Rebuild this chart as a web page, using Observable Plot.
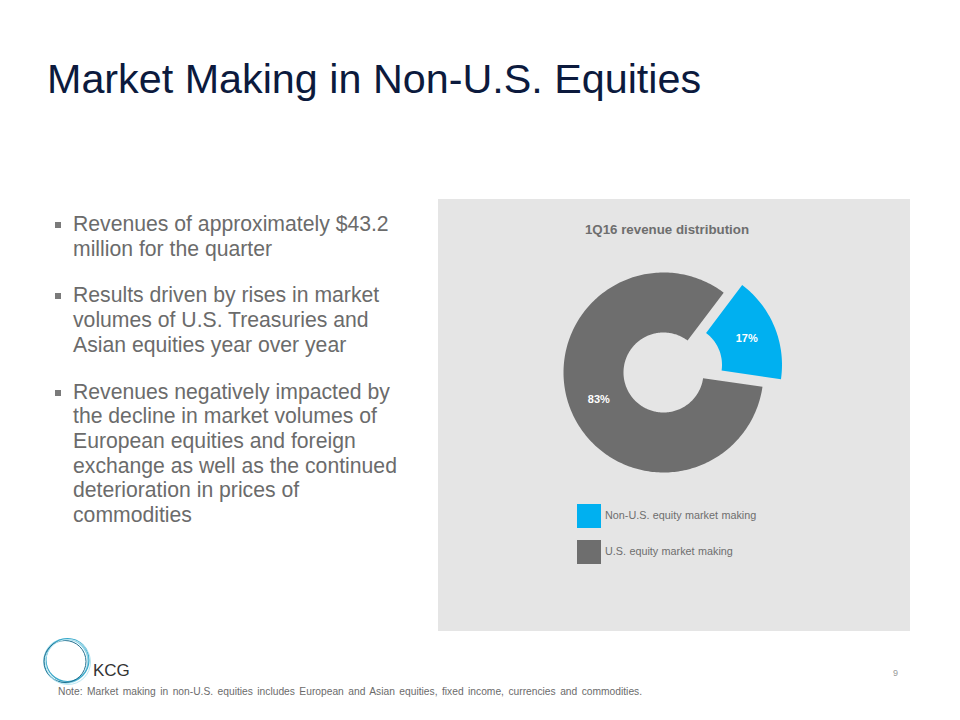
<!DOCTYPE html>
<html>
<head>
<meta charset="utf-8">
<script src="https://cdn.jsdelivr.net/npm/d3@7"></script>
<script src="https://cdn.jsdelivr.net/npm/@observablehq/plot@0.6"></script>
<style>
  html, body { margin: 0; padding: 0; background: #fff; }
  body { width: 960px; height: 720px; position: relative; overflow: hidden; font-family: "Liberation Sans", Arial, sans-serif; }
  .abs { position: absolute; }
  #title { left: 47px; top: 56px; font-size: 41.3px; color: #0c1a3d; white-space: nowrap; }
  #bullets { left: 50px; top: 212px; width: 380px; font-size: 21.2px; line-height: 24.7px; color: #6b6b6b; }
  .para { position: relative; padding-left: 23px; margin-bottom: 22px; white-space: nowrap; }
  .para::before { content: ""; position: absolute; left: 5px; top: 10px; width: 6px; height: 6px; background: #7a7a7a; }
  #panel { left: 438px; top: 199px; width: 472px; height: 432px; background: #e5e5e5; }
  #ctitle { left: 438px; width: 458px; top: 222px; text-align: center; font-size: 13.3px; font-weight: bold; color: #6e6e6e; }
  #chart { left: 438px; top: 250px; }
  .leg { font-size: 10.8px; color: #6e6e6e; word-spacing: 0.4px; }
  .sw { width: 24px; height: 24px; }
  #note { left: 58px; top: 686px; font-size: 10.25px; color: #6b6b6b; word-spacing: 1.6px; white-space: nowrap; }
  #kcg { left: 93px; top: 661px; font-size: 17px; color: #333; }
  #pg { left: 893px; top: 668px; font-size: 9px; color: #999; }
</style>
</head>
<body>
<div id="title" class="abs">Market Making in Non-U.S. Equities</div>
<div id="bullets" class="abs"></div>
<div id="panel" class="abs"></div>
<div id="ctitle" class="abs">1Q16 revenue distribution</div>
<div id="chart" class="abs"></div>
<div id="legend"></div>
<svg class="abs" style="left:38px;top:632px" width="60" height="60">
  <circle cx="28" cy="29" r="22" fill="none" stroke="#8fd3e6" stroke-width="1.4"/>
  <circle cx="29.5" cy="28" r="21.5" fill="none" stroke="#3aa8c9" stroke-width="1.2"/>
  <circle cx="27" cy="29.5" r="21" fill="none" stroke="#1f6f8f" stroke-width="1"/>
  <circle cx="30" cy="30" r="22.5" fill="none" stroke="#b8e6f2" stroke-width="1"/>
</svg>
<div id="kcg" class="abs">KCG</div>
<div id="pg" class="abs">9</div>
<div id="note" class="abs">Note: Market making in non-U.S. equities includes European and Asian equities, fixed income, currencies and commodities.</div>
<script>
// ---- data ----
const categories = ["Non-U.S. equity market making", "U.S. equity market making"];
const shares = [17, 83];
const sliceLabels = ["17%", "83%"];
const colors = ["#00b0f0", "#6e6e6e"];
const bulletTexts = [
  ["Revenues of approximately $43.2", "million for the quarter"],
  ["Results driven by rises in market", "volumes of U.S. Treasuries and", "Asian equities year over year"],
  ["Revenues negatively impacted by", "the decline in market volumes of", "European equities and foreign", "exchange as well as the continued", "deterioration in prices of", "commodities"]
];

// bullets
const bl = document.getElementById("bullets");
bulletTexts.forEach(lines => {
  const p = document.createElement("div");
  p.className = "para";
  p.innerHTML = lines.join("<br>");
  bl.appendChild(p);
});

// legend
const lg = document.getElementById("legend");
categories.forEach((c, i) => {
  const top = 504 + i * 36;
  const sw = document.createElement("div");
  sw.className = "abs sw";
  sw.style.left = "577px"; sw.style.top = top + "px"; sw.style.background = colors[i];
  lg.appendChild(sw);
  const t = document.createElement("div");
  t.className = "abs leg";
  t.style.left = "605px"; t.style.top = (top + 5) + "px";
  t.textContent = c;
  lg.appendChild(t);
});

// donut geometry (radius units in px)
const R_OUT = 100, R_IN = 40, EXPLODE = 20;
const start = 37 * Math.PI / 180;
const pie = d3.pie().sort(null).startAngle(start).endAngle(start + 2 * Math.PI);
const arcs = pie(shares);
const pts = [];
const labels = [];
arcs.forEach((a, i) => {
  const mid = (a.startAngle + a.endAngle) / 2;
  const ex = i === 0 ? EXPLODE : 0;
  const ox = ex * Math.sin(mid), oy = ex * Math.cos(mid);
  const n = Math.max(8, Math.ceil((a.endAngle - a.startAngle) / 0.02));
  for (let k = 0; k <= n; k++) {
    const t = a.startAngle + (a.endAngle - a.startAngle) * k / n;
    pts.push({cat: categories[i], x: ox + R_OUT * Math.sin(t), y: oy + R_OUT * Math.cos(t)});
  }
  for (let k = n; k >= 0; k--) {
    const t = a.startAngle + (a.endAngle - a.startAngle) * k / n;
    pts.push({cat: categories[i], x: ox + R_IN * Math.sin(t), y: oy + R_IN * Math.cos(t)});
  }
  const rl = (R_OUT + R_IN) / 2;
  labels.push({text: sliceLabels[i], x: ox + rl * Math.sin(mid), y: oy + rl * Math.cos(mid)});
});

const W = 474, H = 240;
const chart = Plot.plot({
  width: W, height: H,
  margin: 0,
  style: {background: "transparent", fontFamily: "Liberation Sans, Arial, sans-serif"},
  x: {domain: [-225, W - 225], axis: null},
  y: {domain: [-(H - 122), 122], axis: null},
  color: {domain: categories, range: colors},
  marks: [
    Plot.line(pts, {x: "x", y: "y", z: "cat", fill: "cat", stroke: "none", curve: "linear-closed"}),
    Plot.text(labels, {x: "x", y: "y", text: "text", fill: "white", fontWeight: "bold", fontSize: 11})
  ]
});
document.getElementById("chart").appendChild(chart);
</script>
</body>
</html>
